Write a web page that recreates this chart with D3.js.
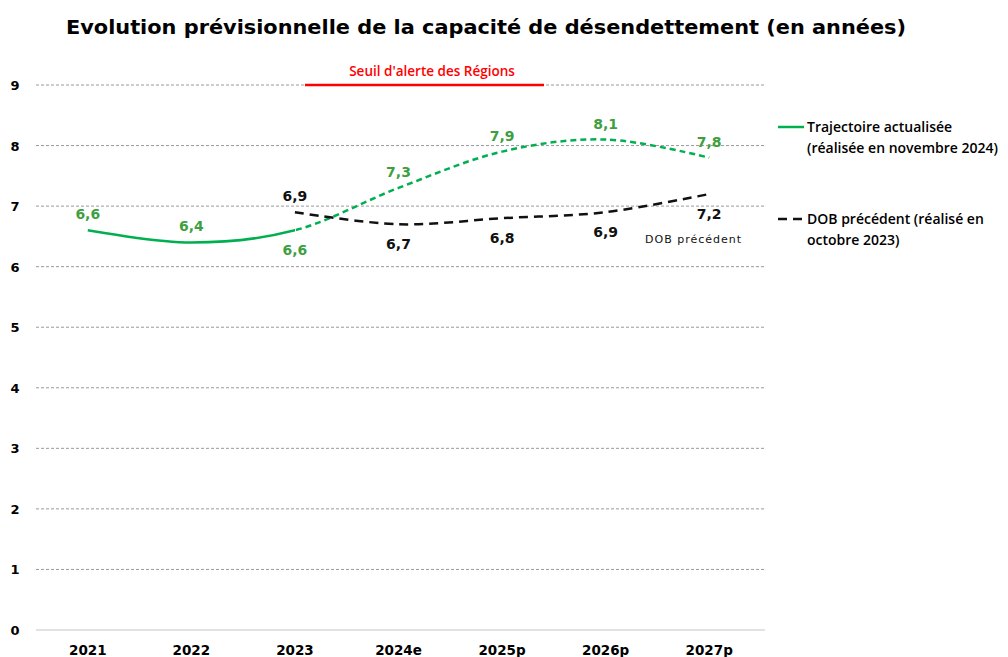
<!DOCTYPE html>
<html>
<head>
<meta charset="utf-8">
<script src="https://cdn.jsdelivr.net/npm/d3@7"></script>
<style>
  body { margin: 0; background: #fff; }
  svg { display: block; }
</style>
</head>
<body>
<svg id="chart" width="1008" height="657"></svg>
<script>
const years = ['2021', '2022', '2023', '2024e', '2025p', '2026p', '2027p'];
const trajectoire = [6.6, 6.4, 6.6, 7.3, 7.9, 8.1, 7.8];
const dobPrecedent = [null, null, 6.9, 6.7, 6.8, 6.9, 7.2];
// label placement: 1 = above the point, -1 = below
const trajLabelSide = [1, 1, -1, 1, 1, 1, 1];
const dobLabelSide = [0, 0, 1, -1, -1, -1, -1];
const yTicks = [0, 1, 2, 3, 4, 5, 6, 7, 8, 9];
const seuil = 9;

const green = '#00b050', greenText = '#3f9f3f';
const svg = d3.select('#chart');

var margin = { top: 85, left: 36, right: 247, bottom: 27 },
    width = 1008 - margin.left - margin.right,
    height = 657 - margin.top - margin.bottom;

var x = d3.scaleBand().domain(years).range([margin.left, margin.left + width]);
var y = d3.scaleLinear().domain([0, 9]).range([630, 85]);
var cx = d => x(d) + x.bandwidth() / 2;

// title
svg.append('text')
    .attr('x', 486).attr('y', 34)
    .attr('text-anchor', 'middle')
    .attr('font-family', 'DejaVu Sans')
    .attr('font-weight', 'bold')
    .attr('font-size', 20)
    .attr('textLength', 840)
    .attr('lengthAdjust', 'spacingAndGlyphs')
    .text('Evolution prévisionnelle de la capacité de désendettement (en années)');

// grid
svg.append('g').selectAll('line')
    .data(yTicks)
    .join('line')
    .attr('x1', margin.left).attr('x2', 765)
    .attr('y1', d => y(d)).attr('y2', d => y(d))
    .attr('stroke', d => d === 0 ? '#e2e2e2' : '#9a9a9a')
    .attr('stroke-width', d => d === 0 ? 2 : 1)
    .attr('stroke-dasharray', d => d === 0 ? null : '3,2');

// y axis labels
svg.append('g').selectAll('text')
    .data(yTicks)
    .join('text')
    .attr('x', 15).attr('y', d => y(d) + 5)
    .attr('text-anchor', 'middle')
    .attr('font-family', 'DejaVu Sans')
    .attr('font-weight', 'bold')
    .attr('font-size', 13)
    .text(d => d);

// x axis labels
svg.append('g').selectAll('text')
    .data(years)
    .join('text')
    .attr('x', d => cx(d)).attr('y', 655)
    .attr('text-anchor', 'middle')
    .attr('font-family', 'DejaVu Sans')
    .attr('font-weight', 'bold')
    .attr('font-size', 13.5)
    .text(d => d);

// seuil d'alerte
svg.append('line')
    .attr('x1', 305).attr('x2', 544)
    .attr('y1', y(seuil)).attr('y2', y(seuil))
    .attr('stroke', '#ff0000').attr('stroke-width', 2.5);
svg.append('text')
    .attr('x', 432).attr('y', 76)
    .attr('text-anchor', 'middle')
    .attr('font-family', 'Open Sans')
    .attr('font-size', 13.5)
    .attr('font-weight', 600)
    .attr('fill', '#ff0000')
    .text("Seuil d'alerte des Régions");

var line = d3.line()
    .defined(d => d[1] != null)
    .x(d => cx(d[0]))
    .y(d => y(d[1]))
    .curve(d3.curveCardinal.tension(0));

var trajPts = years.map((d, i) => [d, trajectoire[i]]);
var dobPts = years.map((d, i) => [d, dobPrecedent[i]]);

// clip the green curve: solid up to 2023, dashed afterwards
var splitX = cx('2023');
var defs = svg.append('defs');
defs.append('clipPath').attr('id', 'solidPart')
    .append('rect').attr('x', 0).attr('y', 0).attr('width', splitX).attr('height', 657);
defs.append('clipPath').attr('id', 'dashPart')
    .append('rect').attr('x', splitX).attr('y', 0).attr('width', 1008 - splitX).attr('height', 657);

svg.append('path')
    .attr('d', line(trajPts))
    .attr('fill', 'none').attr('stroke', green).attr('stroke-width', 2.5)
    .attr('clip-path', 'url(#solidPart)');
svg.append('path')
    .attr('d', line(trajPts))
    .attr('fill', 'none').attr('stroke', green).attr('stroke-width', 2.5)
    .attr('stroke-dasharray', '6,4')
    .attr('clip-path', 'url(#dashPart)');

svg.append('path')
    .attr('d', line(dobPts))
    .attr('fill', 'none').attr('stroke', '#111').attr('stroke-width', 2.5)
    .attr('stroke-dasharray', '9,6');

var fmt = v => String(v).replace('.', ',');

svg.append('g').selectAll('text')
    .data(trajPts)
    .join('text')
    .attr('x', d => cx(d[0]))
    .attr('y', (d, i) => y(d[1]) + (trajLabelSide[i] > 0 ? -11 : 25))
    .attr('text-anchor', 'middle')
    .attr('font-family', 'DejaVu Sans')
    .attr('font-weight', 'bold')
    .attr('font-size', 14)
    .attr('fill', greenText)
    .text(d => fmt(d[1]));

svg.append('g').selectAll('text')
    .data(dobPts.filter(d => d[1] != null))
    .join('text')
    .attr('x', d => cx(d[0]))
    .attr('y', (d, i) => y(d[1]) + (dobLabelSide[i + 2] > 0 ? -11 : 25))
    .attr('text-anchor', 'middle')
    .attr('font-family', 'DejaVu Sans')
    .attr('font-weight', 'bold')
    .attr('font-size', 14)
    .attr('fill', '#111')
    .text(d => fmt(d[1]));

svg.append('text')
    .attr('x', 645).attr('y', 243)
    .attr('font-family', 'DejaVu Sans')
    .attr('font-size', 11)
    .attr('letter-spacing', 1)
    .attr('fill', '#111')
    .text('DOB précédent');

// legend
var legend = svg.append('g').attr('font-family', 'Open Sans').attr('font-size', 14).attr('font-weight', 600);
legend.append('line').attr('x1', 778).attr('x2', 804).attr('y1', 127).attr('y2', 127)
    .attr('stroke', green).attr('stroke-width', 2.5);
legend.append('text').attr('x', 807).attr('y', 132).text('Trajectoire actualisée');
legend.append('text').attr('x', 807).attr('y', 153).text('(réalisée en novembre 2024)');
legend.append('line').attr('x1', 778).attr('x2', 804).attr('y1', 219).attr('y2', 219)
    .attr('stroke', '#111').attr('stroke-width', 2.5).attr('stroke-dasharray', '9,6');
legend.append('text').attr('x', 807).attr('y', 224).text('DOB précédent (réalisé en');
legend.append('text').attr('x', 807).attr('y', 245).text('octobre 2023)');
</script>
</body>
</html>
